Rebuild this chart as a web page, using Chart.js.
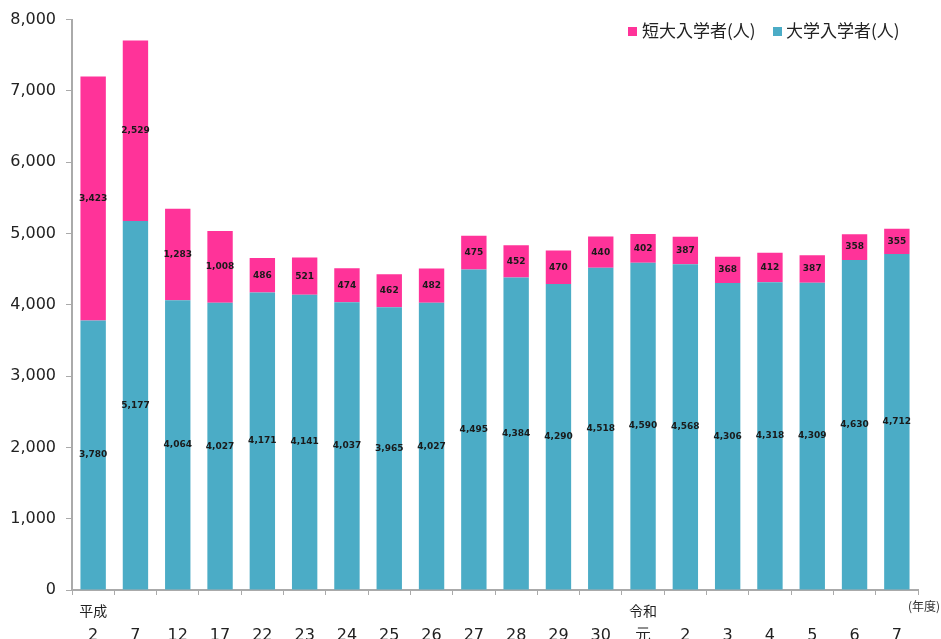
<!DOCTYPE html>
<html lang="ja">
<head>
  <meta charset="UTF-8">
  <title>入学者数の推移</title>
  <style>
    body { margin: 0; background: #fff; }
    #wrap { width: 941px; height: 639px; }
  </style>
</head>
<body>
  <div id="wrap"><canvas id="chart" width="941" height="639"></canvas></div>
  <script src="https://cdn.jsdelivr.net/npm/chart.js@4.4.9/dist/chart.umd.min.js"></script>
  <script>
    const eras = ['平成', '', '', '', '', '', '', '', '', '', '', '', '', '令和', '', '', '', '', '', '']
    const years = ['2', '7', '12', '17', '22', '23', '24', '25', '26', '27', '28', '29', '30', '元', '2', '3', '4', '5', '6', '7']
    const university = [3780, 5177, 4064, 4027, 4171, 4141, 4037, 3965, 4027, 4495, 4384, 4290, 4518, 4590, 4568, 4306, 4318, 4309, 4630, 4712]
    const juniorCollege = [3423, 2529, 1283, 1008, 486, 521, 474, 462, 482, 475, 452, 470, 440, 402, 387, 368, 412, 387, 358, 355]
    const seriesNames = ['大学入学者(人)', '短大入学者(人)']
    const yTicks = [0, 1000, 2000, 3000, 4000, 5000, 6000, 7000, 8000]

    const PINK = '#FF3399'
    const BLUE = '#4BACC6'
    const axisFont = 'DejaVu Sans, Verdana, sans-serif'
    const jpFont = '"Noto Sans CJK JP", sans-serif'

    const valueLabels = {
      id: 'valueLabels',
      afterDatasetsDraw(chart) {
        const ctx = chart.ctx
        ctx.save()
        ctx.font = 'bold 9px ' + axisFont
        ctx.fillStyle = '#1a1a1a'
        ctx.textAlign = 'center'
        ctx.textBaseline = 'middle'
        chart.data.datasets.forEach((ds, i) => {
          chart.getDatasetMeta(i).data.forEach((el, j) => {
            ctx.fillText(ds.data[j].toLocaleString('en-US'), el.x, (el.y + el.base) / 2)
          })
        })
        ctx.restore()
      }
    }

    const extras = {
      id: 'extras',
      afterDraw(chart) {
        const ctx = chart.ctx
        const xs = chart.scales.x
        ctx.save()
        // legend
        ctx.font = '17px ' + jpFont
        ctx.textBaseline = 'middle'
        ctx.fillStyle = PINK
        ctx.fillRect(628, 27, 9, 9)
        ctx.fillStyle = '#222'
        ctx.fillText(seriesNames[1], 642, 31)
        ctx.fillStyle = BLUE
        ctx.fillRect(773, 27, 9, 9)
        ctx.fillStyle = '#222'
        ctx.fillText(seriesNames[0], 786, 31)
        // era names above the year numbers
        ctx.font = '14px ' + jpFont
        ctx.textAlign = 'center'
        eras.forEach((e, i) => {
          if (e) ctx.fillText(e, xs.getPixelForTick(i), 611)
        })
        // unit
        ctx.font = '12px ' + jpFont
        ctx.fillStyle = '#333'
        ctx.textAlign = 'right'
        ctx.fillText('(年度)', 940, 606)
        ctx.restore()
      }
    }

    new Chart(document.getElementById('chart'), {
      type: 'bar',
      data: {
        labels: years,
        datasets: [
          { label: seriesNames[0], data: university, backgroundColor: BLUE },
          { label: seriesNames[1], data: juniorCollege, backgroundColor: PINK }
        ]
      },
      options: {
        responsive: false,
        animation: false,
        barPercentage: 0.6,
        categoryPercentage: 1,
        layout: { padding: { top: 17, right: 23, left: 0, bottom: 0 } },
        plugins: {
          legend: { display: false },
          tooltip: { enabled: false }
        },
        scales: {
          x: {
            stacked: true,
            grid: { drawOnChartArea: false, color: '#aaa', tickLength: 5 },
            border: { color: '#aaa', width: 2 },
            ticks: {
              color: '#222',
              font: { family: axisFont, size: 16 },
              maxRotation: 0,
              padding: 31
            },
            afterFit(scale) { scale.height = 49 }
          },
          y: {
            stacked: true,
            min: 0,
            max: 8000,
            afterBuildTicks(scale) { scale.ticks = yTicks.map(v => ({ value: v })) },
            grid: { drawOnChartArea: false, color: '#aaa', tickLength: 6 },
            border: { color: '#aaa', width: 2 },
            ticks: {
              color: '#222',
              font: { family: axisFont, size: 16 },
              padding: 10,
              callback: v => v.toLocaleString('en-US')
            },
            afterFit(scale) { scale.width = 72 }
          }
        }
      },
      plugins: [valueLabels, extras]
    })
  </script>
</body>
</html>
